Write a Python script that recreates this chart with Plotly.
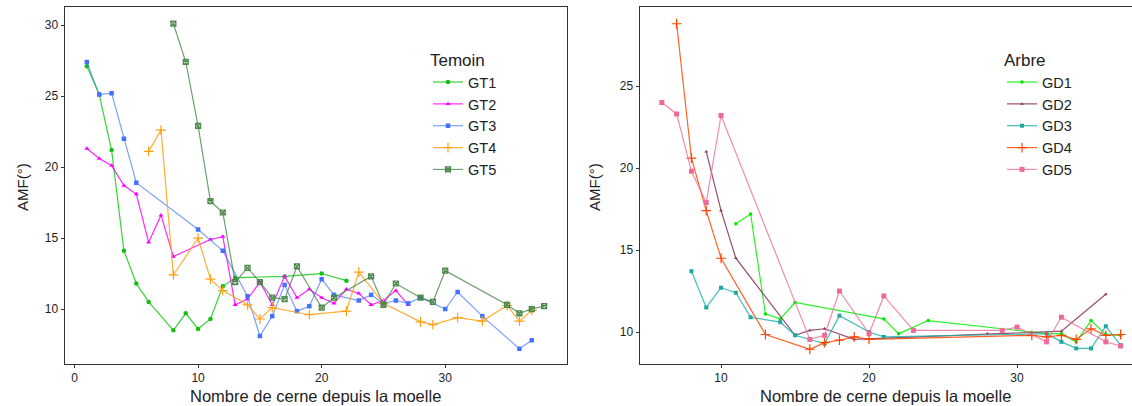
import plotly.graph_objects as go

W, H = 1132, 406

# ---- Témoin (left panel) ----
gt1_x = [1, 2, 3, 4, 5, 6, 8, 9, 10, 11, 12, 13, 17, 20, 22]
gt1_y = [27.1, 25.1, 21.2, 14.1, 11.8, 10.5, 8.5, 9.7, 8.6, 9.3, 11.6, 12.2, 12.3, 12.5, 12.0]

gt2_x = [1, 2, 3, 4, 5, 6, 7, 8, 11, 12, 13, 14, 15, 16, 17, 18, 19, 20, 21, 22, 23, 24, 25, 26, 27]
gt2_y = [21.3, 20.6, 20.1, 18.7, 18.1, 14.7, 16.6, 13.7, 14.9, 15.1, 10.3, 10.7, 11.9, 10.3, 12.3,
         10.8, 11.4, 10.8, 10.4, 11.4, 11.1, 10.3, 10.6, 11.3, 10.3]

gt3_x = [1, 2, 3, 4, 5, 10, 12, 14, 15, 16, 17, 18, 19, 20, 21, 23, 24, 25, 26, 27, 28, 30, 31, 33, 36, 37]
gt3_y = [27.4, 25.1, 25.2, 22.0, 18.9, 15.6, 14.1, 10.9, 8.1, 9.5, 11.7, 9.85, 10.2, 12.1, 11.0,
         10.6, 11.0, 10.4, 10.6, 10.4, 10.8, 10.0, 11.2, 9.5, 7.2, 7.8]

gt4_x = [6, 7, 8, 10, 11, 12, 14, 15, 16, 19, 22, 23, 25, 28, 29, 31, 33, 35, 36, 37]
gt4_y = [21.1, 22.6, 12.4, 15.0, 12.1, 11.3, 10.3, 9.3, 10.1, 9.6, 9.85, 12.6, 10.4, 9.1, 8.9,
         9.4, 9.15, 10.25, 9.15, 9.9]

gt5_x = [8, 9, 10, 11, 12, 13, 14, 15, 16, 17, 18, 20, 21, 24, 25, 26, 28, 29, 30, 35, 36, 37, 38]
gt5_y = [30.1, 27.4, 22.9, 17.6, 16.8, 11.9, 12.9, 11.9, 10.8, 10.7, 13.0, 10.1, 10.8, 12.3, 10.3,
         11.8, 10.8, 10.5, 12.7, 10.3, 9.7, 10.0, 10.2]

# ---- Arbre (right panel) ----
gd1_x = [11, 12, 13, 14, 15, 21, 22, 24, 32, 33, 34, 35, 36, 37]
gd1_y = [16.6, 17.2, 11.1, 10.8, 11.8, 10.8, 9.9, 10.7, 9.9, 9.9, 9.4, 10.7, 9.85, 9.8]

gd2_x = [9, 10, 11, 15, 16, 17, 19, 28, 33, 36]
gd2_y = [21.0, 17.4, 14.5, 9.8, 10.1, 10.2, 9.55, 9.9, 10.05, 12.3]

gd3_x = [8, 9, 10, 11, 12, 14, 15, 17, 18, 20, 21, 32, 33, 34, 35, 36, 37]
gd3_y = [13.7, 11.5, 12.7, 12.4, 10.9, 10.6, 9.8, 9.3, 11.0, 10.0, 9.7, 9.9, 9.4, 9.0, 9.0, 10.35, 9.2]

gd4_x = [7, 8, 9, 10, 13, 16, 17, 18, 19, 20, 31, 32, 33, 34, 35, 36, 37]
gd4_y = [28.8, 20.6, 17.4, 14.5, 9.85, 8.95, 9.35, 9.5, 9.7, 9.55, 9.8, 9.7, 9.8, 9.55, 10.2, 9.8, 9.85]

gd5_x = [6, 7, 8, 9, 10, 16, 17, 18, 20, 21, 23, 29, 30, 32, 33, 36, 37]
gd5_y = [24.0, 23.3, 19.8, 17.9, 23.2, 9.55, 9.8, 12.5, 9.9, 12.2, 10.1, 10.1, 10.3, 9.4, 10.9, 9.4, 9.15]

x_title = "Nombre de cerne depuis la moelle"
y_title = "AMF(°)"

FONT = "Liberation Sans, Arial, sans-serif"

left_series = [
    ("GT1", gt1_x, gt1_y, "rgba(20,200,20,0.85)", "#12c012", "circle", 4.5, 0),
    ("GT2", gt2_x, gt2_y, "rgba(255,0,255,0.85)", "#ff00ff", "triangle-up", 4.5, 0),
    ("GT3", gt3_x, gt3_y, "rgba(70,120,255,0.7)", "#4272ff", "square", 4.5, 0),
    ("GT4", gt4_x, gt4_y, "rgba(255,160,20,0.85)", "#ff9f10", "cross-thin", 7, 1.2),
    ("GT5", gt5_x, gt5_y, "rgba(60,125,60,0.75)", "#4b8a4b", "square-x-open", 5, 1.2),
]
right_series = [
    ("GD1", gd1_x, gd1_y, "rgba(0,240,0,0.85)", "#00e600", "circle", 3.5, 0),
    ("GD2", gd2_x, gd2_y, "rgba(130,45,90,0.85)", "#8b3a62", "triangle-up", 3.5, 0),
    ("GD3", gd3_x, gd3_y, "rgba(32,178,170,0.85)", "#1fa8a0", "square", 4, 0),
    ("GD4", gd4_x, gd4_y, "rgba(255,69,0,0.85)", "#ff4500", "cross-thin", 7, 1.2),
    ("GD5", gd5_x, gd5_y, "rgba(240,110,150,0.8)", "#ef6a98", "square", 5, 0),
]

fig = go.Figure()


def add(series, xa, ya, legend):
    for name, xs, ys, lc, mc, sym, size, lw in series:
        marker = dict(symbol=sym, size=size, color=mc)
        if lw:
            marker["line"] = dict(width=lw, color=mc)
        fig.add_trace(go.Scatter(
            x=xs, y=ys, name=name, mode="lines+markers",
            line=dict(color=lc, width=1.2), marker=marker,
            xaxis=xa, yaxis=ya, legend=legend,
        ))


add(left_series, "x", "y", "legend")
add(right_series, "x2", "y2", "legend2")

# plot area spans 7..364 px from the top
ydom = [1 - 364 / H, 1 - 7 / H]
axis_common = dict(
    showgrid=False, zeroline=False, ticks="outside", ticklen=3, tickwidth=1,
    tickcolor="#333", showline=True, linecolor="#333", linewidth=1,
    tickfont=dict(family=FONT, size=12, color="#222"),
)

fig.update_layout(
    width=W, height=H,
    margin=dict(l=0, r=0, t=0, b=0),
    paper_bgcolor="white", plot_bgcolor="white",
    font=dict(family=FONT, color="#222"),
    xaxis=dict(domain=[64.5 / W, 567 / W], range=[-0.81, 39.85],
               tickvals=[0, 10, 20, 30], mirror=True, anchor="y", **axis_common),
    yaxis=dict(domain=ydom, range=[6.13, 31.27], tickvals=[10, 15, 20, 25, 30],
               mirror=True, anchor="x", **axis_common),
    xaxis2=dict(domain=[639.5 / W, 1.0], range=[4.49, 37.77],
                tickvals=[10, 20, 30], mirror=True, anchor="y2", **axis_common),
    yaxis2=dict(domain=ydom, range=[8.05, 29.82], tickvals=[10, 15, 20, 25],
                anchor="x2", **axis_common),
    legend=dict(
        x=428 / W, y=1 - 44 / H, xanchor="left", yanchor="top",
        title=dict(text="Temoin", font=dict(family=FONT, size=17, color="#222")),
        font=dict(family=FONT, size=14.5, color="#222"),
        bgcolor="rgba(0,0,0,0)", itemwidth=30, tracegroupgap=0,
    ),
    legend2=dict(
        x=1002 / W, y=1 - 44 / H, xanchor="left", yanchor="top",
        title=dict(text="Arbre", font=dict(family=FONT, size=17, color="#222")),
        font=dict(family=FONT, size=14.5, color="#222"),
        bgcolor="rgba(0,0,0,0)", itemwidth=30, tracegroupgap=0,
    ),
    annotations=[
        dict(text=x_title, x=(64.5 + 567) / 2 / W, y=0, xref="paper", yref="paper",
             showarrow=False, font=dict(family=FONT, size=16.5, color="#222"),
             xanchor="center", yanchor="bottom", borderpad=0),
        dict(text=x_title, x=(639.5 + 1132) / 2 / W, y=0, xref="paper", yref="paper",
             showarrow=False, font=dict(family=FONT, size=16.5, color="#222"),
             xanchor="center", yanchor="bottom", borderpad=0),
        dict(text=y_title, x=22 / W, y=1 - 187 / H, xref="paper", yref="paper", textangle=-90,
             showarrow=False, font=dict(family=FONT, size=15, color="#222"),
             xanchor="center", yanchor="middle"),
        dict(text=y_title, x=594 / W, y=1 - 187 / H, xref="paper", yref="paper", textangle=-90,
             showarrow=False, font=dict(family=FONT, size=15, color="#222"),
             xanchor="center", yanchor="middle"),
    ],
)

fig.write_html("out.html")
